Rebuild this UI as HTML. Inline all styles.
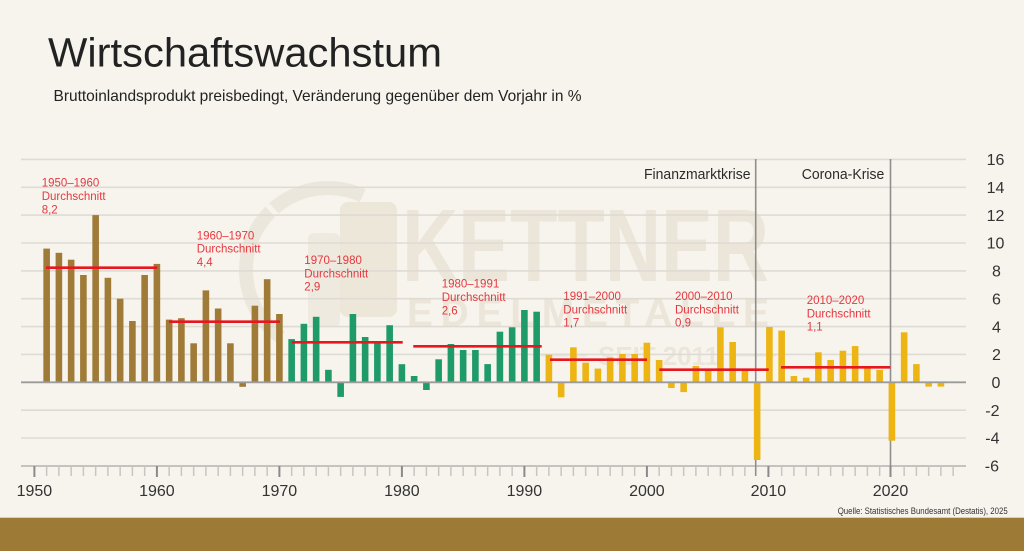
<!DOCTYPE html>
<html>
<head>
<meta charset="utf-8">
<style>
html,body{margin:0;padding:0;background:#f7f4ed;}
svg{display:block;}
text{font-family:"Liberation Sans",Arial,sans-serif;}
</style>
</head>
<body>
<svg width="1024" height="551" viewBox="0 0 1024 551" xmlns="http://www.w3.org/2000/svg">
<rect x="0" y="0" width="1024" height="551" fill="#f7f4ed"/>

<!-- watermark -->
<g>
<path d="M362.7 195.7 A82 82 0 0 0 281 337.2" fill="none" stroke="#ece7dc" stroke-width="14"/>
<line x1="263" y1="200" x2="282" y2="221" stroke="#f7f4ed" stroke-width="5"/>
<rect x="340" y="202" width="57" height="115" rx="8" fill="#ede7da"/>
<rect x="308" y="233" width="32" height="94" rx="6" fill="#efeae0"/>
<text x="402" y="281" font-size="103" font-weight="bold" fill="#ece6da" textLength="367" lengthAdjust="spacingAndGlyphs">KETTNER</text>
<text x="407" y="326" font-size="39" font-weight="bold" fill="#ece6da" textLength="362" lengthAdjust="spacing">EDELMETALLE</text>
<text x="598" y="365" font-size="26" font-weight="bold" fill="#ece6da" textLength="121" lengthAdjust="spacing">SEIT 2011</text>
<line x1="541" y1="355" x2="587" y2="355" stroke="#ece6da" stroke-width="3"/>
<line x1="730" y1="355" x2="776" y2="355" stroke="#ece6da" stroke-width="3"/>
</g>

<!-- gridlines -->
<g stroke="#dedbd4" stroke-width="1.6">
<line x1="21" y1="159.4" x2="966" y2="159.4"/>
<line x1="21" y1="187.3" x2="966" y2="187.3"/>
<line x1="21" y1="215.1" x2="966" y2="215.1"/>
<line x1="21" y1="243.0" x2="966" y2="243.0"/>
<line x1="21" y1="270.9" x2="966" y2="270.9"/>
<line x1="21" y1="298.7" x2="966" y2="298.7"/>
<line x1="21" y1="326.6" x2="966" y2="326.6"/>
<line x1="21" y1="354.4" x2="966" y2="354.4"/>
<line x1="21" y1="410.2" x2="966" y2="410.2"/>
<line x1="21" y1="438.0" x2="966" y2="438.0"/>
</g>
<line x1="21" y1="466" x2="966" y2="466" stroke="#c4c3c0" stroke-width="2"/>

<!-- crisis lines -->
<line x1="755.7" y1="159" x2="755.7" y2="476" stroke="#8e8e8e" stroke-width="1.6"/>
<line x1="890.5" y1="159" x2="890.5" y2="476" stroke="#8e8e8e" stroke-width="1.6"/>

<!-- ticks -->
<g stroke="#c6c5c2" stroke-width="1.5">
<line x1="46.65" y1="466" x2="46.65" y2="476"/><line x1="58.9" y1="466" x2="58.9" y2="476"/><line x1="71.15" y1="466" x2="71.15" y2="476"/><line x1="83.4" y1="466" x2="83.4" y2="476"/><line x1="95.65" y1="466" x2="95.65" y2="476"/><line x1="107.9" y1="466" x2="107.9" y2="476"/><line x1="120.15" y1="466" x2="120.15" y2="476"/><line x1="132.4" y1="466" x2="132.4" y2="476"/><line x1="144.65" y1="466" x2="144.65" y2="476"/>
<line x1="169.15" y1="466" x2="169.15" y2="476"/><line x1="181.4" y1="466" x2="181.4" y2="476"/><line x1="193.65" y1="466" x2="193.65" y2="476"/><line x1="205.9" y1="466" x2="205.9" y2="476"/><line x1="218.15" y1="466" x2="218.15" y2="476"/><line x1="230.4" y1="466" x2="230.4" y2="476"/><line x1="242.65" y1="466" x2="242.65" y2="476"/><line x1="254.9" y1="466" x2="254.9" y2="476"/><line x1="267.15" y1="466" x2="267.15" y2="476"/>
<line x1="291.65" y1="466" x2="291.65" y2="476"/><line x1="303.9" y1="466" x2="303.9" y2="476"/><line x1="316.15" y1="466" x2="316.15" y2="476"/><line x1="328.4" y1="466" x2="328.4" y2="476"/><line x1="340.65" y1="466" x2="340.65" y2="476"/><line x1="352.9" y1="466" x2="352.9" y2="476"/><line x1="365.15" y1="466" x2="365.15" y2="476"/><line x1="377.4" y1="466" x2="377.4" y2="476"/><line x1="389.65" y1="466" x2="389.65" y2="476"/>
<line x1="414.15" y1="466" x2="414.15" y2="476"/><line x1="426.4" y1="466" x2="426.4" y2="476"/><line x1="438.65" y1="466" x2="438.65" y2="476"/><line x1="450.9" y1="466" x2="450.9" y2="476"/><line x1="463.15" y1="466" x2="463.15" y2="476"/><line x1="475.4" y1="466" x2="475.4" y2="476"/><line x1="487.65" y1="466" x2="487.65" y2="476"/><line x1="499.9" y1="466" x2="499.9" y2="476"/><line x1="512.15" y1="466" x2="512.15" y2="476"/>
<line x1="536.65" y1="466" x2="536.65" y2="476"/><line x1="548.9" y1="466" x2="548.9" y2="476"/><line x1="561.15" y1="466" x2="561.15" y2="476"/><line x1="573.4" y1="466" x2="573.4" y2="476"/><line x1="585.65" y1="466" x2="585.65" y2="476"/><line x1="597.9" y1="466" x2="597.9" y2="476"/><line x1="610.15" y1="466" x2="610.15" y2="476"/><line x1="622.4" y1="466" x2="622.4" y2="476"/><line x1="634.65" y1="466" x2="634.65" y2="476"/>
<line x1="659.15" y1="466" x2="659.15" y2="476"/><line x1="671.4" y1="466" x2="671.4" y2="476"/><line x1="683.65" y1="466" x2="683.65" y2="476"/><line x1="695.9" y1="466" x2="695.9" y2="476"/><line x1="708.15" y1="466" x2="708.15" y2="476"/><line x1="720.4" y1="466" x2="720.4" y2="476"/><line x1="732.65" y1="466" x2="732.65" y2="476"/><line x1="744.9" y1="466" x2="744.9" y2="476"/>
<line x1="781.65" y1="466" x2="781.65" y2="476"/><line x1="793.9" y1="466" x2="793.9" y2="476"/><line x1="806.15" y1="466" x2="806.15" y2="476"/><line x1="818.4" y1="466" x2="818.4" y2="476"/><line x1="830.65" y1="466" x2="830.65" y2="476"/><line x1="842.9" y1="466" x2="842.9" y2="476"/><line x1="855.15" y1="466" x2="855.15" y2="476"/><line x1="867.4" y1="466" x2="867.4" y2="476"/><line x1="879.65" y1="466" x2="879.65" y2="476"/>
<line x1="904.15" y1="466" x2="904.15" y2="476"/><line x1="916.4" y1="466" x2="916.4" y2="476"/><line x1="928.65" y1="466" x2="928.65" y2="476"/><line x1="940.9" y1="466" x2="940.9" y2="476"/><line x1="953.15" y1="466" x2="953.15" y2="476"/>
</g>
<g stroke="#8a8a8a" stroke-width="2">
<line x1="34.4" y1="466" x2="34.4" y2="477"/>
<line x1="156.9" y1="466" x2="156.9" y2="477"/>
<line x1="279.4" y1="466" x2="279.4" y2="477"/>
<line x1="401.9" y1="466" x2="401.9" y2="477"/>
<line x1="524.4" y1="466" x2="524.4" y2="477"/>
<line x1="646.9" y1="466" x2="646.9" y2="477"/>
<line x1="768.4" y1="466" x2="768.4" y2="477"/>
<line x1="890.5" y1="466" x2="890.5" y2="477"/>
</g>

<!-- bars 1951-1970 -->
<g fill="#a07b38">
<rect x="43.35" y="248.6" width="6.6" height="133.7"/>
<rect x="55.6" y="252.8" width="6.6" height="129.5"/>
<rect x="67.85" y="259.7" width="6.6" height="122.6"/>
<rect x="80.1" y="275.0" width="6.6" height="107.3"/>
<rect x="92.35" y="215.1" width="6.6" height="167.2"/>
<rect x="104.6" y="277.8" width="6.6" height="104.5"/>
<rect x="116.85" y="298.7" width="6.6" height="83.6"/>
<rect x="129.1" y="321.0" width="6.6" height="61.3"/>
<rect x="141.35" y="275.0" width="6.6" height="107.3"/>
<rect x="153.6" y="263.9" width="6.6" height="118.4"/>
<rect x="165.85" y="319.6" width="6.6" height="62.7"/>
<rect x="178.1" y="318.2" width="6.6" height="64.1"/>
<rect x="190.35" y="343.3" width="6.6" height="39.0"/>
<rect x="202.6" y="290.4" width="6.6" height="91.9"/>
<rect x="214.85" y="308.5" width="6.6" height="73.8"/>
<rect x="227.1" y="343.3" width="6.6" height="39.0"/>
<rect x="239.35" y="382.3" width="6.6" height="4.5"/>
<rect x="251.6" y="305.7" width="6.6" height="76.6"/>
<rect x="263.85" y="279.2" width="6.6" height="103.1"/>
<rect x="276.1" y="314.0" width="6.6" height="68.3"/>
</g>
<!-- bars 1971-1991 -->
<g fill="#1f9a69">
<rect x="288.35" y="339.1" width="6.6" height="43.2"/>
<rect x="300.6" y="323.8" width="6.6" height="58.5"/>
<rect x="312.85" y="316.8" width="6.6" height="65.5"/>
<rect x="325.1" y="369.8" width="6.6" height="12.5"/>
<rect x="337.35" y="382.3" width="6.6" height="14.6"/>
<rect x="349.6" y="314.0" width="6.6" height="68.3"/>
<rect x="361.85" y="337.0" width="6.6" height="45.3"/>
<rect x="374.1" y="343.0" width="6.6" height="39.3"/>
<rect x="386.35" y="325.2" width="6.6" height="57.1"/>
<rect x="398.6" y="364.2" width="6.6" height="18.1"/>
<rect x="410.85" y="376.0" width="6.6" height="6.3"/>
<rect x="423.1" y="382.3" width="6.6" height="7.7"/>
<rect x="435.35" y="359.3" width="6.6" height="23.0"/>
<rect x="447.6" y="344.0" width="6.6" height="38.3"/>
<rect x="459.85" y="350.0" width="6.6" height="32.3"/>
<rect x="472.1" y="350.0" width="6.6" height="32.3"/>
<rect x="484.35" y="364.1" width="6.6" height="18.2"/>
<rect x="496.6" y="331.7" width="6.6" height="50.6"/>
<rect x="508.85" y="327.3" width="6.6" height="55.0"/>
<rect x="521.1" y="310.0" width="6.6" height="72.3"/>
<rect x="533.35" y="311.7" width="6.6" height="70.6"/>
</g>
<!-- bars 1992-2024 -->
<g fill="#ecb514">
<rect x="545.6" y="354.7" width="6.6" height="27.6"/>
<rect x="557.85" y="382.3" width="6.6" height="15.0"/>
<rect x="570.1" y="347.3" width="6.6" height="35.0"/>
<rect x="582.35" y="362.7" width="6.6" height="19.6"/>
<rect x="594.6" y="368.6" width="6.6" height="13.7"/>
<rect x="606.85" y="357.4" width="6.6" height="24.9"/>
<rect x="619.1" y="354.0" width="6.6" height="28.3"/>
<rect x="631.35" y="354.0" width="6.6" height="28.3"/>
<rect x="643.6" y="342.7" width="6.6" height="39.6"/>
<rect x="655.85" y="360.0" width="6.6" height="22.3"/>
<rect x="668.1" y="382.3" width="6.6" height="5.7"/>
<rect x="680.35" y="382.3" width="6.6" height="9.8"/>
<rect x="692.6" y="366.0" width="6.6" height="16.3"/>
<rect x="704.85" y="370.0" width="6.6" height="12.3"/>
<rect x="717.1" y="327.3" width="6.6" height="55.0"/>
<rect x="729.35" y="342.0" width="6.6" height="40.3"/>
<rect x="741.6" y="370.0" width="6.6" height="12.3"/>
<rect x="753.85" y="382.3" width="6.6" height="77.7"/>
<rect x="766.1" y="327.0" width="6.6" height="55.3"/>
<rect x="778.35" y="330.6" width="6.6" height="51.7"/>
<rect x="790.6" y="376.0" width="6.6" height="6.3"/>
<rect x="802.85" y="377.7" width="6.6" height="4.6"/>
<rect x="815.1" y="352.3" width="6.6" height="30.0"/>
<rect x="827.35" y="360.0" width="6.6" height="22.3"/>
<rect x="839.6" y="350.7" width="6.6" height="31.6"/>
<rect x="851.85" y="346.1" width="6.6" height="36.2"/>
<rect x="864.1" y="368.4" width="6.6" height="13.9"/>
<rect x="876.35" y="370.0" width="6.6" height="12.3"/>
<rect x="888.6" y="382.3" width="6.6" height="58.4"/>
<rect x="900.85" y="332.3" width="6.6" height="50.0"/>
<rect x="913.1" y="364.1" width="6.6" height="18.2"/>
<rect x="925.35" y="382.3" width="6.6" height="4.3"/>
<rect x="937.6" y="382.3" width="6.6" height="4.3"/>
</g>

<!-- zero line -->
<line x1="21" y1="382.3" x2="966" y2="382.3" stroke="#9b9b9b" stroke-width="1.8"/>

<!-- average lines -->
<g stroke="#e8161f" stroke-width="2.6">
<line x1="46" y1="267.7" x2="157.3" y2="267.7"/>
<line x1="169" y1="321.7" x2="280" y2="321.7"/>
<line x1="291.7" y1="342.3" x2="402.7" y2="342.3"/>
<line x1="413.3" y1="346.3" x2="541.7" y2="346.3"/>
<line x1="550" y1="359.7" x2="647" y2="359.7"/>
<line x1="659.3" y1="369.7" x2="768.7" y2="369.7"/>
<line x1="781" y1="367.3" x2="890.3" y2="367.3"/>
</g>

<!-- annotations -->
<g fill="#e5383f" font-size="11.5">
<text x="41.7" y="186.7">1950–1960</text><text x="41.7" y="200">Durchschnitt</text><text x="41.7" y="213.3">8,2</text>
<text x="196.7" y="239.3">1960–1970</text><text x="196.7" y="252.6">Durchschnitt</text><text x="196.7" y="265.9">4,4</text>
<text x="304.3" y="264">1970–1980</text><text x="304.3" y="277.3">Durchschnitt</text><text x="304.3" y="290.6">2,9</text>
<text x="441.7" y="287.7">1980–1991</text><text x="441.7" y="301">Durchschnitt</text><text x="441.7" y="314.3">2,6</text>
<text x="563.3" y="300">1991–2000</text><text x="563.3" y="313.3">Durchschnitt</text><text x="563.3" y="326.6">1,7</text>
<text x="675" y="300">2000–2010</text><text x="675" y="313.3">Durchschnitt</text><text x="675" y="326.6">0,9</text>
<text x="806.7" y="304">2010–2020</text><text x="806.7" y="317.3">Durchschnitt</text><text x="806.7" y="330.6">1,1</text>
</g>

<!-- crisis labels -->
<text x="644" y="179" font-size="14.5" fill="#2b2b2b" textLength="106.5" lengthAdjust="spacingAndGlyphs">Finanzmarktkrise</text>
<text x="801.7" y="179" font-size="14.5" fill="#2b2b2b" textLength="82.6" lengthAdjust="spacingAndGlyphs">Corona-Krise</text>

<!-- y labels -->
<g font-size="16" fill="#333" text-anchor="middle">
<text x="995.5" y="165.1">16</text>
<text x="995.5" y="193">14</text>
<text x="995.5" y="220.8">12</text>
<text x="995.5" y="248.7">10</text>
<text x="996.5" y="276.6">8</text>
<text x="996.5" y="304.4">6</text>
<text x="996.5" y="332.3">4</text>
<text x="996.5" y="360.1">2</text>
<text x="996" y="388">0</text>
</g>
<g font-size="16" fill="#333" text-anchor="end">
<text x="999.5" y="415.9">-2</text>
<text x="999.5" y="443.7">-4</text>
<text x="999" y="471.6">-6</text>
</g>

<!-- x labels -->
<g font-size="16" fill="#333" text-anchor="middle">
<text x="34.4" y="495.8">1950</text>
<text x="156.9" y="495.8">1960</text>
<text x="279.4" y="495.8">1970</text>
<text x="401.9" y="495.8">1980</text>
<text x="524.4" y="495.8">1990</text>
<text x="646.9" y="495.8">2000</text>
<text x="768.4" y="495.8">2010</text>
<text x="890.5" y="495.8">2020</text>
</g>

<!-- title -->
<text x="48" y="66.7" font-size="41" fill="#222" textLength="394" lengthAdjust="spacingAndGlyphs">Wirtschaftswachstum</text>
<text x="53.5" y="101" font-size="16" fill="#222" textLength="528" lengthAdjust="spacingAndGlyphs">Bruttoinlandsprodukt preisbedingt, Veränderung gegenüber dem Vorjahr in %</text>

<!-- source -->
<text x="837.7" y="514" font-size="8.8" fill="#333" textLength="170" lengthAdjust="spacingAndGlyphs">Quelle: Statistisches Bundesamt (Destatis), 2025</text>

<!-- bottom bar -->
<rect x="0" y="517.7" width="1024" height="34" fill="#9d7a36"/>
</svg>
</body>
</html>
